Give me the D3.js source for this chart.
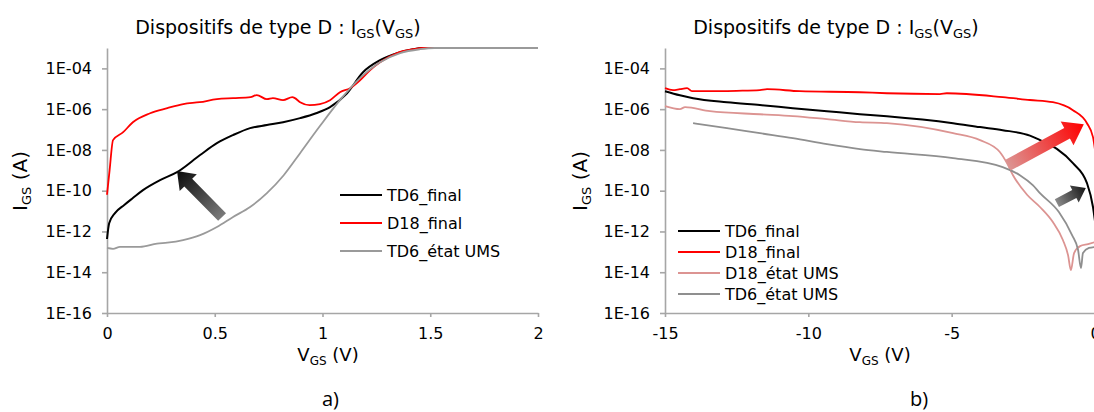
<!DOCTYPE html>
<html><head><meta charset="utf-8">
<script src="https://cdn.jsdelivr.net/npm/d3@7"></script>
<style>body{margin:0;background:#fff}text{font-family:'DejaVu Sans',sans-serif}</style>
</head><body>
<script>
// ---------- DATA (V_GS in volts, log10 of I_GS in A) ----------
const yTickExps = [-16,-14,-12,-10,-8,-6,-4];
const xTicksA = [0,0.5,1,1.5,2];
const xTicksB = [-15,-10,-5,0];

// Panel a)
const a_TD6_final_V = [0,0.01,0.037,0.08,0.12,0.167,0.246,0.325,0.432,0.51,0.585,0.664,0.742,0.817,0.896,0.97,1.035,1.114,1.188,1.267,1.346,1.42,1.46,2.0];
const a_TD6_final_L = [-12.37,-11.6,-11.1,-10.7,-10.36,-9.97,-9.48,-9.09,-8.25,-7.67,-7.27,-6.93,-6.78,-6.64,-6.44,-6.2,-5.9,-5.22,-4.19,-3.6,-3.25,-3.06,-3.0,-3.0];
const a_D18_final_V = [0,0.012,0.028,0.075,0.12,0.2,0.28,0.354,0.43,0.51,0.585,0.666,0.695,0.742,0.77,0.817,0.86,0.872,0.896,0.94,0.988,1.035,1.081,1.128,1.174,1.22,1.267,1.346,1.42,1.467,2.0];
const a_D18_final_L = [-10.2,-9.0,-7.52,-7.13,-6.64,-6.2,-5.95,-5.75,-5.66,-5.51,-5.46,-5.41,-5.31,-5.51,-5.46,-5.56,-5.41,-5.46,-5.66,-5.8,-5.75,-5.56,-5.17,-4.97,-4.58,-4.09,-3.7,-3.25,-3.06,-3.0,-3.0];
const a_TD6_UMS_V = [0,0.028,0.06,0.153,0.232,0.28,0.353,0.432,0.51,0.585,0.664,0.742,0.82,0.896,0.988,1.081,1.174,1.267,1.36,1.452,1.52,2.0];
const a_TD6_UMS_L = [-12.81,-12.85,-12.76,-12.76,-12.6,-12.55,-12.42,-12.18,-11.78,-11.29,-10.8,-10.12,-9.24,-8.16,-6.83,-5.56,-4.48,-3.7,-3.25,-3.06,-3.0,-3.0];

// Panel b)
const b_TD6_final_V = [-15,-14.48,-14.02,-12.84,-11.69,-10.54,-9.35,-8.2,-7.26,-4.95,-4.01,-3.22,-2.27,-1.8,-1.33,-0.77,-0.28,-0.07,0];
const b_TD6_final_L = [-5.12,-5.32,-5.46,-5.66,-5.8,-5.95,-6.1,-6.25,-6.35,-6.69,-6.88,-7.03,-7.3,-7.6,-7.95,-8.65,-9.63,-10.8,-11.5];
const b_D18_final_V = [-15,-14.72,-14.48,-14.23,-14.06,-13.54,-12.5,-11.69,-11.44,-10.3,-8.2,-7.26,-5.41,-5.17,-3.22,-2.27,-1.47,-0.77,-0.28,-0.07,0];
const b_D18_final_L = [-4.97,-5.07,-5.02,-4.97,-5.12,-5.12,-5.1,-5.07,-5.02,-5.12,-5.17,-5.22,-5.26,-5.22,-5.41,-5.55,-5.66,-6.05,-6.69,-7.37,-8.0];
const b_D18_UMS_V = [-15,-14.48,-14.3,-13.43,-11.69,-10.54,-9.35,-8.2,-7.26,-4.95,-4.01,-3.32,-3.07,-2.86,-2.37,-1.92,-1.47,-1.12,-0.94,-0.84,-0.73,-0.52,-0.24,0];
const b_D18_UMS_L = [-5.85,-6.0,-5.9,-6.1,-6.25,-6.34,-6.49,-6.64,-6.69,-7.18,-7.52,-8.1,-8.65,-9.24,-10.2,-10.8,-11.54,-12.42,-13.16,-13.9,-13.06,-12.72,-12.62,-12.52];
const b_TD6_UMS_V = [-14.02,-12.84,-11.69,-10.54,-9.35,-8.2,-7.26,-4.95,-3.22,-2.62,-2.17,-1.92,-1.26,-0.8,-0.59,-0.49,-0.42,-0.21,0];
const b_TD6_UMS_L = [-6.69,-6.93,-7.18,-7.42,-7.72,-7.96,-8.1,-8.4,-8.84,-9.24,-9.73,-10.12,-11.05,-12.18,-12.91,-13.8,-13.06,-12.81,-12.76];

const legendA = ["TD6_final","D18_final","TD6_état UMS"];
const legendB = ["TD6_final","D18_final","D18_état UMS","TD6_état UMS"];

// Arrow annotations in data coordinates [V, log10 I]
const arrowA = {from:[0.534,-11.29], to:[0.325,-9.04]};
const arrowBred = {from:[-3.04,-8.75], to:[-0.39,-6.74]};
const arrowBdark = {from:[-1.33,-10.61], to:[-0.32,-9.87]};

// ---------- DRAWING ----------
const C = {black:"#000000", red:"#ff0000", gray:"#9a9a9a", pink:"#dc9492", axis:"#a6a6a6"};
const svg = d3.select("body").append("svg").attr("width",1094).attr("height",412);
const defs = svg.append("defs");

function zip(V,L){return V.map((v,i)=>[v,Math.pow(10,L[i])]);}
const fmt = d => { const e = Math.round(Math.log10(d)); return "1E" + (e<0?"-":"+") + String(Math.abs(e)).padStart(2,"0"); };

function panel(opt){
  const x = d3.scaleLinear().domain(opt.xDomain).range(opt.xRange);
  const y = d3.scaleLog().domain([1e-16,1e-3]).range([313,48]);
  const g = svg.append("g");
  const yAx = g.append("g").attr("transform",`translate(${opt.xRange[0]},0)`)
    .call(d3.axisLeft(y).tickValues(yTickExps.map(e=>Math.pow(10,e))).tickFormat(fmt).tickSize(5).tickSizeOuter(0).tickPadding(10));
  const xAx = g.append("g").attr("transform","translate(0,313)")
    .call(d3.axisBottom(x).tickValues(opt.xTicks).tickFormat(d => String(d)).tickSize(4).tickSizeOuter(0).tickPadding(11));
  [yAx,xAx].forEach(ax=>{
    ax.selectAll("path,line").attr("stroke",C.axis).attr("stroke-width",1.6);
    ax.selectAll("text").attr("fill","#000").style("font-size","16px").style("font-family","'DejaVu Sans',sans-serif");
  });
  const line = d3.line().x(d=>x(d[0])).y(d=>y(d[1])).curve(d3.curveMonotoneX);
  opt.series.forEach(s=>{
    g.append("path").datum(zip(s.V,s.L)).attr("fill","none").attr("stroke",s.color)
      .attr("stroke-width",s.w).attr("stroke-linejoin","round").attr("d",line);
  });
  // arrows
  opt.arrows.forEach((a,i)=>{
    const x0=x(a.from[0]), y0=y(Math.pow(10,a.from[1])), x1=x(a.to[0]), y1=y(Math.pow(10,a.to[1]));
    const id = opt.id+"grad"+i;
    const gr = defs.append("linearGradient").attr("id",id).attr("gradientUnits","userSpaceOnUse")
      .attr("x1",x0).attr("y1",y0).attr("x2",x1).attr("y2",y1);
    gr.append("stop").attr("offset","0%").attr("stop-color",a.c0);
    gr.append("stop").attr("offset","100%").attr("stop-color",a.c1);
    const dx=x1-x0, dy=y1-y0, len=Math.hypot(dx,dy), ux=dx/len, uy=dy/len, px=-uy, py=ux;
    const bx=x1-ux*a.hl, by=y1-uy*a.hl, sw=a.sw/2, hw=a.hw/2;
    const pts=[[x0+px*sw,y0+py*sw],[bx+px*sw,by+py*sw],[bx+px*hw,by+py*hw],[x1,y1],[bx-px*hw,by-py*hw],[bx-px*sw,by-py*sw],[x0-px*sw,y0-py*sw]];
    g.append("polygon").attr("points",pts.map(p=>p.join(",")).join(" ")).attr("fill",`url(#${id})`);
  });
  // legend
  opt.legend.forEach((name,i)=>{
    const yy = opt.legY + i*opt.legDy;
    g.append("line").attr("x1",opt.legX).attr("x2",opt.legX+42).attr("y1",yy).attr("y2",yy)
      .attr("stroke",opt.legColors[i]).attr("stroke-width",2);
    g.append("text").attr("x",opt.legX+47).attr("y",yy).attr("dy","0.36em").style("font-size","16px").text(name);
  });
  // title
  const t = g.append("text").attr("x",opt.titleX).attr("y",34).attr("text-anchor","middle").style("font-size","19px");
  t.append("tspan").text("Dispositifs de type D : I");
  t.append("tspan").attr("dy",4).style("font-size","13px").text("GS");
  t.append("tspan").attr("dy",-4).text("(V");
  t.append("tspan").attr("dy",4).style("font-size","13px").text("GS");
  t.append("tspan").attr("dy",-4).text(")");
  // x label
  const xl = g.append("text").attr("x",opt.xLabX).attr("y",361).attr("text-anchor","middle").style("font-size","18px");
  xl.append("tspan").text("V");
  xl.append("tspan").attr("dy",4).style("font-size","12px").text("GS");
  xl.append("tspan").attr("dy",-4).text(" (V)");
  // y label
  const yl = g.append("text").attr("transform",`translate(${opt.yLabX},181) rotate(-90)`).attr("text-anchor","middle").style("font-size","20px");
  yl.append("tspan").text("I");
  yl.append("tspan").attr("dy",4).style("font-size","13px").text("GS");
  yl.append("tspan").attr("dy",-4).text(" (A)");
  // panel letter
  g.append("text").attr("x",opt.letX).attr("y",406).style("font-size","20px").style("font-family","'Open Sans',sans-serif").text(opt.letter);
}

panel({
  id:"a", xDomain:[0,2], xRange:[107,538], xTicks:xTicksA,
  series:[
    {V:a_TD6_final_V,L:a_TD6_final_L,color:C.black,w:2},
    {V:a_D18_final_V,L:a_D18_final_L,color:C.red,w:1.8},
    {V:a_TD6_UMS_V,L:a_TD6_UMS_L,color:C.gray,w:1.8}
  ],
  arrows:[{...arrowA,c0:"#7a7a7a",c1:"#0a0a0a",sw:11,hw:24,hl:16}],
  legend:legendA, legColors:[C.black,C.red,C.gray], legX:340, legY:195, legDy:28,
  titleX:278, xLabX:328, yLabX:27, letX:322, letter:"a)"
});
panel({
  id:"b", xDomain:[-15,0], xRange:[665,1095], xTicks:xTicksB,
  series:[
    {V:b_TD6_final_V,L:b_TD6_final_L,color:C.black,w:2},
    {V:b_D18_final_V,L:b_D18_final_L,color:C.red,w:1.8},
    {V:b_D18_UMS_V,L:b_D18_UMS_L,color:C.pink,w:1.8},
    {V:b_TD6_UMS_V,L:b_TD6_UMS_L,color:"#8f8f8f",w:1.8}
  ],
  arrows:[
    {...arrowBred,c0:"#dc9492",c1:"#ff0000",sw:12,hw:27,hl:19},
    {...arrowBdark,c0:"#8a8a8a",c1:"#151515",sw:9,hw:19,hl:13}
  ],
  legend:legendB, legColors:[C.black,C.red,C.pink,"#8f8f8f"], legX:678, legY:231, legDy:21,
  titleX:836, xLabX:880, yLabX:587, letX:910, letter:"b)"
});
</script>
</body></html>
